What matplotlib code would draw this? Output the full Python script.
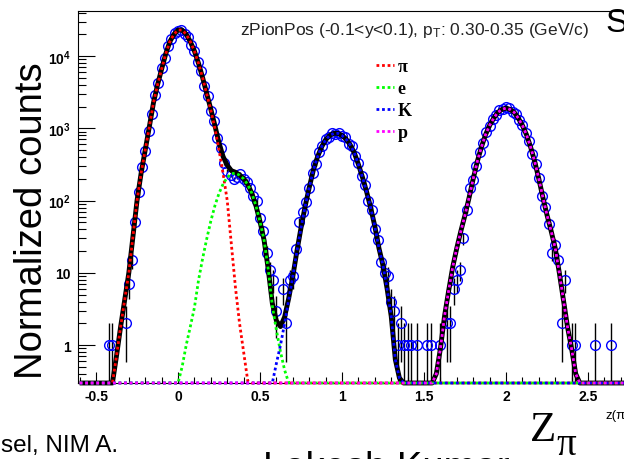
import numpy as np
import matplotlib
matplotlib.use('Agg')
import matplotlib.pyplot as plt
from matplotlib.lines import Line2D
from matplotlib.ticker import LogLocator, MultipleLocator, NullFormatter

plt.rcParams['font.family'] = ['Liberation Sans', 'DejaVu Sans']
plt.rcParams['mathtext.fontset'] = 'custom'
plt.rcParams['mathtext.rm'] = 'Liberation Sans'
plt.rcParams['mathtext.bf'] = 'Liberation Sans:bold'
plt.rcParams['mathtext.it'] = 'Liberation Sans:italic'
plt.rcParams['axes.unicode_minus'] = False

# histogram of z(pi): bins of 0.02, first bin centred at -0.44
data_first = -0.44
data_width = 0.02
data_counts = [
    0, 1, 1, 0, 0, 0, 2, 7, 15, 50,
    130, 290, 480, 930, 1600, 2900, 4200, 6800, 9500, 13900,
    17000, 21000, 22500, 23200, 20500, 18600, 14400, 11900, 8300, 6200,
    3900, 2800, 1760, 1250, 740, 540, 330, 260, 225, 200,
    210, 230, 200, 182, 150, 115, 100, 58, 38, 19,
    11, 8, 3, 0, 6, 2, 8, 9, 21, 50,
    69, 95, 150, 240, 320, 470, 560, 720, 760, 860,
    830, 870, 780, 750, 610, 560, 410, 330, 220, 165,
    100, 75, 40, 28, 14, 10, 9, 4, 3, 1,
    2, 1, 1, 1, 0, 1, 0, 0, 1, 1,
    0, 0, 1, 0, 2, 2, 6, 8, 11, 30,
    75, 150, 195, 300, 470, 630, 900, 1080, 1340, 1520,
    1780, 1830, 1950, 1880, 1700, 1590, 1290, 1120, 850, 670,
    440, 320, 205, 115, 82, 48, 19, 24, 15, 2,
    8, 0, 1, 1, 0, 0, 0, 0, 0, 1,
    0, 0, 0, 0, 1, 0,
]

# fit components, sampled every 0.025 in z
curve_step = 0.025
curve_from, curve_to = -0.6, 2.9

pion_start = -0.40
pion_vals = [0.28, 0.71, 1.8, 4.2, 10, 32, 100, 240, 500, 1050,
             2240, 4000, 6600, 10700, 15800, 20000, 22900, 22900, 20000, 15800,
             11700, 7900, 5000, 3000, 1780, 1000, 500, 234, 100, 25,
             6.3, 2.0, 0.8, 0.32]

elec_start = 0.0
elec_vals = [0.2, 0.5, 1.0, 1.8, 3.3, 7.9, 15.8, 29.5, 52, 85,
             126, 170, 209, 234, 240, 224, 200, 166, 126, 85,
             51, 28, 11.2, 3.5, 1.6, 0.8, 0.45, 0.25]

kaon_start = 0.575
kaon_vals = [0.28, 0.56, 1.0, 2.0, 4.2, 8.9, 20, 42, 83, 151,
             263, 398, 550, 692, 794, 851, 851, 794, 708, 589,
             457, 316, 209, 132, 79, 44, 22, 12.6, 6.0, 2.5,
             0.63, 0.35, 0.25]

prot_start = 1.55
prot_vals = [0.22, 0.4, 0.89, 2.5, 5.6, 12, 22, 38, 63, 110,
             200, 347, 550, 813, 1096, 1380, 1660, 1820, 1905, 1820,
             1660, 1380, 1096, 813, 550, 347, 200, 110, 63, 38,
             22, 10, 4.2, 1.78, 0.89, 0.4, 0.22]

labels = ['π', 'e', 'K', 'p']
colors = ['#ff0000', '#00ff00', '#0000ff', '#ff00ff']

ymin, ymax = 0.298, 4.2e4

curve_z = np.round(np.arange(curve_from, curve_to + 1e-9, curve_step), 3)


def on_grid(start, vals):
    full = np.zeros(len(curve_z))
    i = int(round((start - curve_from) / curve_step))
    full[i:i + len(vals)] = vals
    return full


parts = [on_grid(pion_start, pion_vals), on_grid(elec_start, elec_vals),
         on_grid(kaon_start, kaon_vals), on_grid(prot_start, prot_vals)]
total = np.sum(parts, axis=0)

fig = plt.figure(figsize=(6.24, 4.6), dpi=100)
ax = fig.add_axes([78 / 624, 76 / 460, 575.6 / 624, 372 / 460])

# data points with sqrt(N) errors
dz = data_first + data_width * np.arange(len(data_counts))
counts = np.array(data_counts, dtype=float)
m = counts > 0
ax.errorbar(dz[m], counts[m], yerr=np.sqrt(counts[m]), fmt='none',
            ecolor='black', elinewidth=1.0, capsize=0, zorder=2)
ax.plot(dz[m], counts[m], 'o', mfc='none', mec='#0000ff', ms=7, mew=1.0, zorder=3)

# total fit and components
ax.plot(curve_z, np.clip(total, ymin, None), color='black', lw=3.5,
        zorder=4, clip_on=False, solid_capstyle='butt')
for part, c in zip(parts, colors):
    ax.plot(curve_z, np.clip(part, ymin, None), color=c, lw=2,
            ls=(0, (1, 1)), zorder=5, clip_on=False)

ax.set_yscale('log')
ax.set_xlim(-0.61, 2.9)
ax.set_ylim(ymin, ymax)

xt = np.arange(-0.5, 2.51, 0.5)
ax.set_xticks(xt, [f'{v:g}' for v in xt], fontweight='bold')
ax.xaxis.set_minor_locator(MultipleLocator(0.1))
yt = [1, 10, 100, 1000, 10000]
ax.set_yticks(yt, ['1', '10', r'$\mathbf{10}^{\mathbf{2}}$',
                   r'$\mathbf{10}^{\mathbf{3}}$', r'$\mathbf{10}^{\mathbf{4}}$'],
              fontweight='bold')
ax.yaxis.set_minor_locator(LogLocator(base=10, subs=range(2, 10)))
ax.yaxis.set_minor_formatter(NullFormatter())

ax.tick_params(axis='x', which='major', direction='in', length=8, width=0.8,
               labelsize=10, pad=4)
ax.tick_params(axis='x', which='minor', direction='in', length=4, width=0.8)
ax.tick_params(axis='y', which='major', direction='in', length=12, width=0.8,
               labelsize=10, pad=5)
ax.tick_params(axis='y', which='minor', direction='in', length=6, width=0.8)
for s in ax.spines.values():
    s.set_linewidth(0.8)

handles = [Line2D([], [], color=c, lw=2, ls=(0, (1, 1))) for c in colors]
fig.legend(handles, labels, loc='upper left', bbox_to_anchor=(376 / 624, 1 - 59 / 460),
           frameon=False, handlelength=1.0, handletextpad=0.2, labelspacing=0.28,
           borderpad=0, borderaxespad=0,
           prop={'family': ['Liberation Serif', 'DejaVu Serif'], 'weight': 'bold', 'size': 13})

fig.text(240 / 624, 1 - 30 / 460, r'zPionPos (-0.1<y<0.1), p$_{\mathregular{T}}$: 0.30-0.35 (GeV/c)',
         fontsize=12.5, color='#222222', ha='left', va='center')

fig.text(42 / 624, 1 - 221 / 460, 'Normalized counts', fontsize=27.5, rotation=90,
         rotation_mode='anchor', ha='center', va='baseline')

fig.text(1 / 624, 1 - 452 / 460, 'sel, NIM A.', fontsize=17.5, ha='left', va='baseline')
fig.text(263 / 624, 1 - 479 / 460, 'Lokesh Kumar', fontsize=27.5, ha='left', va='baseline')
fig.text(530 / 624, 1 - 441 / 460, 'Z', fontsize=31, family=['Liberation Serif', 'DejaVu Serif'],
         ha='left', va='baseline')
fig.text(556 / 624, 1 - 455 / 460, 'π', fontsize=28, family=['Liberation Serif', 'DejaVu Serif'],
         ha='left', va='baseline')
fig.text(605 / 624, 1 - 419 / 460, 'z(π)', fontsize=9.5, ha='left', va='baseline')
fig.text(605 / 624, 1 - 32 / 460, 'S', fontsize=24, ha='left', va='baseline')

fig.savefig('out.png', dpi=100)
